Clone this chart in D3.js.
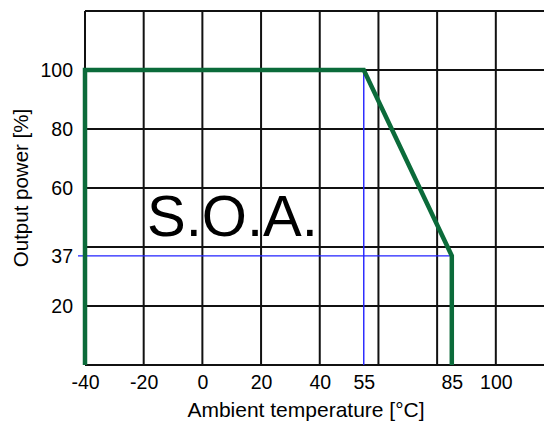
<!DOCTYPE html>
<html>
<head>
<meta charset="utf-8">
<script src="https://cdn.jsdelivr.net/npm/d3@7"></script>
<style>
  body { margin: 0; background: #fff; }
  text { font-family: "Liberation Sans", Arial, sans-serif; fill: #000; }
</style>
</head>
<body>
<script>
const width = 544, height = 423;

// grid and ticks
const xGrid = [-40, -20, 0, 20, 40, 60, 80, 100, 120];
const yGrid = [0, 20, 40, 60, 80, 100, 120];
const xTicks = [-40, -20, 0, 20, 40, 55, 85, 100];
const yTicks = [20, 37, 60, 80, 100];

// derating curve (temperature, output power)
const soaTemp = [-40, -40, 55, 85, 85];
const soaPower = [0, 100, 100, 37, 0];

// marker lines at 55 °C and 37 %
const markTemp = 55, markPower = 37;

const x = d3.scaleLinear().domain([-40, 120]).range([85, 554.5]);
const y = d3.scaleLinear().domain([0, 120]).range([365, 11]);

const svg = d3.select('body').append('svg')
  .attr('width', width)
  .attr('height', height);

const grid = svg.append('g')
  .attr('stroke', '#111')
  .attr('stroke-width', 2);

grid.selectAll('.vx')
  .data(xGrid)
  .enter().append('line')
    .attr('x1', (d) => x(d)).attr('x2', (d) => x(d))
    .attr('y1', y(0)).attr('y2', y(120));

grid.selectAll('.hy')
  .data(yGrid)
  .enter().append('line')
    .attr('x1', x(-40)).attr('x2', x(120))
    .attr('y1', (d) => y(d)).attr('y2', (d) => y(d));

// blue guide lines
svg.append('line')
  .attr('x1', x(markTemp)).attr('x2', x(markTemp))
  .attr('y1', y(100)).attr('y2', y(0))
  .attr('stroke', '#2222ff').attr('stroke-width', 1.4);

svg.append('line')
  .attr('x1', x(-40) - 7).attr('x2', x(85))
  .attr('y1', y(markPower)).attr('y2', y(markPower))
  .attr('stroke', '#2222ff').attr('stroke-width', 1.4);

const line = d3.line()
  .x((d) => x(d[0]))
  .y((d) => y(d[1]));

svg.append('path')
  .datum(soaTemp.map((t, i) => [t, soaPower[i]]))
  .attr('d', line)
  .attr('fill', 'none')
  .attr('stroke', '#0b6b3a')
  .attr('stroke-width', 4.5)
  .attr('stroke-linejoin', 'miter');

// axes labels
const xAxis = svg.append('g')
  .attr('transform', `translate(0,${y(0)})`)
  .call(d3.axisBottom(x).tickValues(xTicks).tickSize(0).tickPadding(10).tickFormat((d) => String(d)));
xAxis.select('.domain').remove();
xAxis.selectAll('text')
  .attr('font-size', 19.5)
  .attr('font-family', '"Liberation Sans", Arial, sans-serif')
  .attr('fill', '#000');

const yAxis = svg.append('g')
  .attr('transform', `translate(${x(-40)},0)`)
  .call(d3.axisLeft(y).tickValues(yTicks).tickSize(0).tickPadding(12).tickFormat((d) => String(d)));
yAxis.select('.domain').remove();
yAxis.selectAll('text')
  .attr('font-size', 19.5)
  .attr('font-family', '"Liberation Sans", Arial, sans-serif')
  .attr('fill', '#000');

svg.append('text')
  .attr('x', 306)
  .attr('y', 417)
  .attr('text-anchor', 'middle')
  .attr('font-size', 21)
  .text('Ambient temperature [°C]');

svg.append('text')
  .attr('transform', 'translate(28,188) rotate(-90)')
  .attr('text-anchor', 'middle')
  .attr('font-size', 20.5)
  .text('Output power [%]');

svg.append('text')
  .attr('x', 147)
  .attr('y', 236)
  .attr('font-size', 58)
  .text('S.O.A.');
</script>
</body>
</html>
